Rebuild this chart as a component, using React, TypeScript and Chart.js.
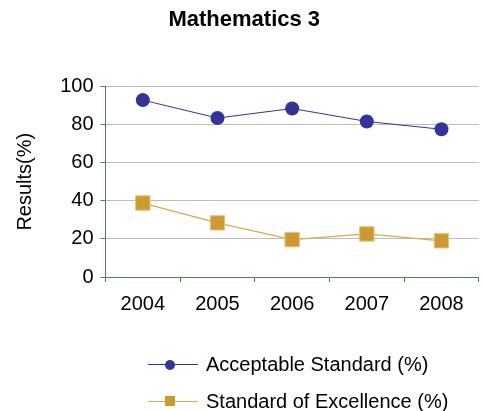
import React, { useRef, useEffect } from 'react';
import { Chart, ChartConfiguration, registerables } from 'chart.js';

Chart.register(...registerables);

// Chart data
const years = ['2004', '2005', '2006', '2007', '2008'];
const acceptableStandard = [92.8, 83.4, 88.4, 81.6, 77.5];
const standardOfExcellence = [38.8, 28.4, 19.6, 22.6, 19.0];
const yTicks = [0, 20, 40, 60, 80, 100];

const BLUE = '#333399';
const GOLD = '#cc9933';
const GOLD_LINE = '#d9aa4c';
const AXIS_GREEN = '#4f814f';
const GRID_GRAY = '#bdbdbd';
const FONT = "'Liberation Sans', Arial, sans-serif";

const legendItems = [
  { label: 'Acceptable Standard (%)', color: BLUE, line: BLUE, round: true },
  { label: 'Standard of Excellence (%)', color: GOLD, line: GOLD_LINE, round: false },
];

const App: React.FC = () => {
  const chartRef = useRef<HTMLCanvasElement>(null);
  const chartInstance = useRef<Chart | null>(null);

  useEffect(() => {
    document.body.style.margin = '0';
    document.body.style.overflow = 'hidden';
    if (!chartRef.current) return;
    if (chartInstance.current) chartInstance.current.destroy();
    const ctx = chartRef.current.getContext('2d');
    if (!ctx) return;

    const config: ChartConfiguration = {
      type: 'line',
      data: {
        labels: years,
        datasets: [
          {
            label: legendItems[0].label,
            data: acceptableStandard,
            borderColor: BLUE,
            borderWidth: 1,
            backgroundColor: BLUE,
            pointStyle: 'circle',
            pointRadius: 7,
            pointBorderWidth: 0,
            pointBackgroundColor: BLUE,
            tension: 0,
          },
          {
            label: legendItems[1].label,
            data: standardOfExcellence,
            borderColor: GOLD_LINE,
            borderWidth: 1.2,
            backgroundColor: GOLD,
            pointStyle: 'rect',
            pointRadius: 10.2,
            pointBorderWidth: 1,
            pointBorderColor: '#e8c47e',
            pointBackgroundColor: GOLD,
            tension: 0,
          },
        ],
      },
      options: {
        responsive: true,
        maintainAspectRatio: false,
        animation: false,
        layout: { padding: { left: 2, right: 3.5, top: 0, bottom: 0 } },
        plugins: {
          legend: { display: false },
          tooltip: { enabled: false },
          title: {
            display: true,
            text: 'Mathematics 3',
            color: '#000',
            font: { family: FONT, size: 22, weight: 'bold' },
            padding: { top: 7, bottom: 53 },
          },
        },
        scales: {
          x: {
            offset: true,
            grid: {
              offset: true,
              drawOnChartArea: false,
              drawTicks: true,
              tickLength: 5,
              tickColor: AXIS_GREEN,
            },
            border: { color: AXIS_GREEN, width: 1 },
            ticks: {
              color: '#000',
              font: { family: FONT, size: 20 },
              padding: 10,
              maxRotation: 0,
            },
            afterFit: (scale: any) => {
              scale.height = 134;
            },
          },
          y: {
            min: 0,
            max: 100,
            afterBuildTicks: (scale: any) => {
              scale.ticks = yTicks.map(v => ({ value: v }));
            },
            grid: {
              color: GRID_GRAY,
              tickColor: AXIS_GREEN,
              tickLength: 5,
              drawTicks: true,
            },
            border: { color: AXIS_GREEN, width: 1 },
            ticks: {
              color: '#000',
              font: { family: FONT, size: 20 },
              padding: 7,
            },
            title: {
              display: true,
              text: 'Results(%)',
              color: '#000',
              font: { family: FONT, size: 20 },
              padding: { top: 11, bottom: 0 },
            },
            afterFit: (scale: any) => {
              scale.width = 103.5;
            },
          },
        },
      },
    } as ChartConfiguration;

    chartInstance.current = new Chart(ctx, config);

    return () => {
      if (chartInstance.current) {
        chartInstance.current.destroy();
        chartInstance.current = null;
      }
    };
  }, []);

  return (
    <div style={{ position: 'relative', width: 490, height: 411, background: '#fff' }}>
      <canvas ref={chartRef}></canvas>

      {/* Custom legend */}
      {legendItems.map((item, i) => (
        <div
          key={item.label}
          style={{
            position: 'absolute',
            left: 0,
            top: 352 + i * 36.7,
            height: 24,
            width: 490,
          }}
        >
          <div
            style={{
              position: 'absolute',
              left: 148,
              top: 12,
              width: 50,
              height: 1,
              background: item.line,
            }}
          />
          <div
            style={{
              position: 'absolute',
              left: 165,
              top: 7.5,
              width: 10,
              height: 10,
              background: item.color,
              borderRadius: item.round ? '50%' : 0,
            }}
          />
          <span
            style={{
              position: 'absolute',
              left: 206,
              top: 0,
              lineHeight: '24px',
              fontFamily: FONT,
              fontSize: 20,
              color: '#000',
              whiteSpace: 'nowrap',
            }}
          >
            {item.label}
          </span>
        </div>
      ))}
    </div>
  );
};

export default App;
